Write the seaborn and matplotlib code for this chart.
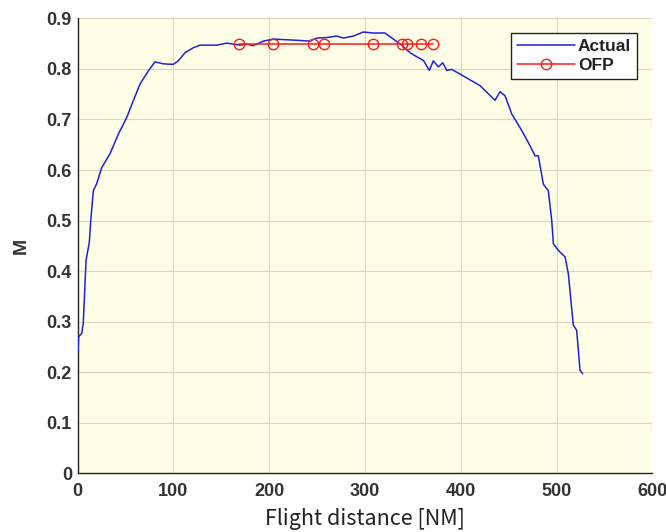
import matplotlib
matplotlib.use("Agg")
import matplotlib.pyplot as plt
import seaborn as sns
import pandas as pd

# Actual flight Mach profile
actual_dist = [0.6, 1.2, 4.4, 6, 8.9, 12.3, 13.8, 16.5, 20, 25.3, 33.9, 42.6, 51.4, 58.2, 65.2,
               73.9, 80.9, 89.6, 100, 105.2, 112.2, 120.9, 127.9, 145.3, 155.7, 162.6, 169.6,
               176.6, 183.5, 194, 204.4, 225.3, 242.7, 249.7, 260.1, 270.6, 277.5, 287.9, 298.3,
               308.8, 321, 329.6, 338.4, 347.1, 354.1, 361, 367.2, 371.4, 376.6, 381.2, 385.4,
               390.6, 402.7, 420.1, 435.8, 441, 446.2, 453.2, 463.7, 472.3, 477.6, 481, 486.2,
               491.4, 495, 496.7, 501.9, 508.9, 512.3, 517.5, 521, 524.5, 527.3]
actual_mach = [0.243, 0.270, 0.277, 0.297, 0.421, 0.457, 0.500, 0.559, 0.573, 0.605, 0.632, 0.671,
               0.704, 0.737, 0.770, 0.796, 0.814, 0.810, 0.809, 0.816, 0.832, 0.842, 0.847, 0.847,
               0.851, 0.849, 0.847, 0.849, 0.846, 0.855, 0.859, 0.857, 0.855, 0.861, 0.862, 0.865,
               0.861, 0.865, 0.873, 0.871, 0.871, 0.859, 0.847, 0.832, 0.824, 0.817, 0.797, 0.816,
               0.804, 0.812, 0.797, 0.799, 0.786, 0.767, 0.738, 0.755, 0.747, 0.711, 0.678, 0.648,
               0.628, 0.628, 0.572, 0.559, 0.500, 0.454, 0.441, 0.428, 0.395, 0.293, 0.283, 0.204,
               0.197]

# OFP (flight plan) waypoints
ofp_dist = [168.9, 204.4, 245.5, 257.6, 308.1, 338.4, 343.6, 358.2, 370.8]
ofp_mach = [0.85, 0.85, 0.85, 0.85, 0.85, 0.85, 0.85, 0.85, 0.85]

x_ticks = [0, 100, 200, 300, 400, 500, 600]
y_ticks = [0, 0.1, 0.2, 0.3, 0.4, 0.5, 0.6, 0.7, 0.8, 0.9]
y_tick_labels = ["0", "0.1", "0.2", "0.3", "0.4", "0.5", "0.6", "0.7", "0.8", "0.9"]

df_actual = pd.DataFrame({"dist": actual_dist, "mach": actual_mach})
df_ofp = pd.DataFrame({"dist": ofp_dist, "mach": ofp_mach})

sns.set_style("white")
plt.rcParams["font.family"] = ["Liberation Sans", "DejaVu Sans"]

fig = plt.figure(figsize=(6.66, 5.32), dpi=100)
ax = fig.add_axes([0.1164, 0.1103, 0.9795 - 0.1164, 0.9655 - 0.1103])
ax.set_facecolor("#FFFFE8")

sns.lineplot(data=df_actual, x="dist", y="mach", ax=ax, color="#1F1FE0", linewidth=1.1,
             label="Actual", sort=False, estimator=None, zorder=3)
sns.lineplot(data=df_ofp, x="dist", y="mach", ax=ax, color="#FF1A1A", linewidth=1.1,
             marker="o", markersize=7.5, markerfacecolor="none", markeredgecolor="#FF1A1A",
             markeredgewidth=1.0, label="OFP", sort=False, estimator=None, zorder=3)

ax.set_xlim(0, 600)
ax.set_ylim(0, 0.9)
ax.set_xticks(x_ticks)
ax.set_yticks(y_ticks)
ax.set_yticklabels(y_tick_labels)
ax.grid(True, color="#D8D8C0", linewidth=0.8)
ax.set_axisbelow(True)

for s in ["top", "right"]:
    ax.spines[s].set_visible(False)
for s in ["left", "bottom"]:
    ax.spines[s].set_color("#222222")
    ax.spines[s].set_linewidth(1.0)

ax.tick_params(axis="both", direction="in", length=4, width=0.8, colors="#222222",
               labelsize=13)
ax.tick_params(axis="x", pad=7)
ax.tick_params(axis="y", pad=4)
for lbl in ax.get_xticklabels() + ax.get_yticklabels():
    lbl.set_fontweight("bold")
    lbl.set_color("#333333")

ax.set_xlabel("Flight distance [NM]", fontsize=15.5, color="#222222",
              family=["Noto Sans CJK JP", "DejaVu Sans"], labelpad=6)
ax.set_ylabel("M", fontsize=14, fontweight="bold", color="#333333", labelpad=12)

leg = ax.legend(loc="upper right", bbox_to_anchor=(0.98, 0.975), frameon=True,
                fancybox=False, framealpha=1, edgecolor="#222222", facecolor="white",
                fontsize=12.5, handlelength=3.3, handletextpad=0.2, borderpad=0.35,
                labelspacing=0.2, borderaxespad=0.2)
leg.get_frame().set_linewidth(1.0)
for t in leg.get_texts():
    t.set_fontweight("bold")
    t.set_color("#222222")

fig.savefig("out.png", dpi=100, facecolor="white")
